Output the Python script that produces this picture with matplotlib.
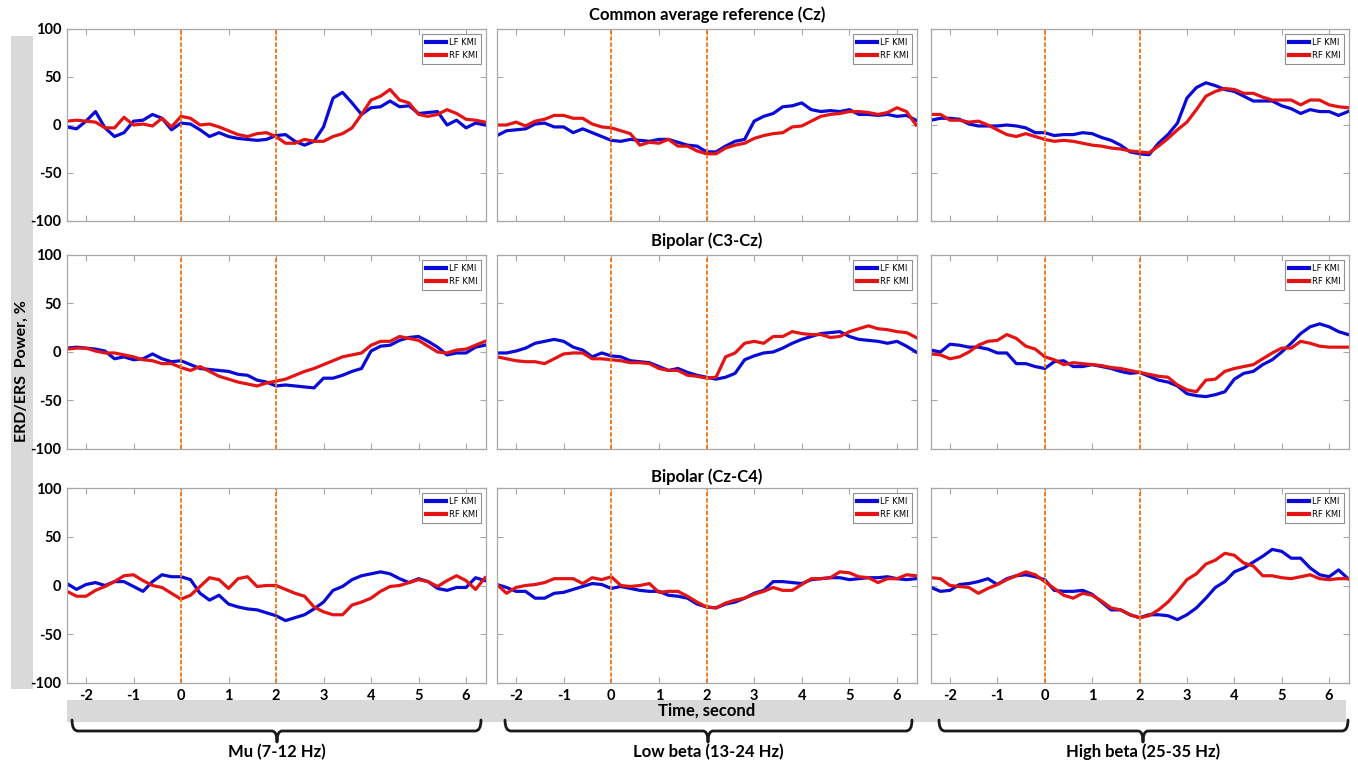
import numpy as np
import matplotlib
matplotlib.use("Agg")
import matplotlib.pyplot as plt
from matplotlib.path import Path
from matplotlib.patches import PathPatch, Rectangle

plt.rcParams['font.family'] = ['Lato', 'DejaVu Sans']

# time grid, second
t = np.linspace(-2.4, 6.4, 45)

# ERD/ERS power (%), row = reference, column = band
car_mu_lf = [-2, -4, 4, 14, -3, -12, -8, 4, 5, 11, 7, -5, 2, 1, -5, -12, -8, -12, -14, -15,
             -16, -15, -11, -10, -17, -21, -17, -2, 28, 34, 23, 11, 18, 19, 25, 19, 20, 12, 13, 14,
             0, 5, -3, 2, 0]
car_mu_rf = [4, 5, 4, 3, -3, -3, 8, 0, 1, -1, 7, -2, 9, 7, 0, 1, -2, -6, -10, -12,
             -9, -8, -12, -19, -19, -15, -17, -17, -12, -9, -3, 11, 26, 30, 37, 26, 23, 11, 9, 11,
             16, 12, 6, 5, 3]
car_lb_lf = [-11, -6, -5, -4, 1, 2, -2, -2, -8, -4, -8, -12, -16, -17, -15, -16, -17, -15, -15, -18,
             -21, -22, -28, -28, -22, -17, -15, 4, 9, 12, 19, 20, 23, 16, 14, 15, 14, 16, 11, 11,
             10, 11, 9, 10, 5]
car_lb_rf = [0, 0, 3, -1, 4, 6, 10, 10, 7, 7, 1, -2, -3, -6, -9, -21, -18, -19, -15, -22,
             -22, -27, -30, -30, -24, -21, -19, -14, -11, -9, -8, -2, -1, 4, 9, 11, 12, 14, 14, 13,
             11, 13, 18, 14, 0]
car_hb_lf = [5, 7, 7, 6, 1, -1, -1, -1, 0, -1, -3, -8, -8, -11, -10, -10, -8, -9, -13, -16,
             -21, -28, -30, -31, -19, -10, 2, 28, 39, 44, 41, 37, 35, 30, 25, 25, 25, 20, 17, 12,
             16, 14, 14, 10, 14]
car_hb_rf = [11, 11, 5, 5, 3, 4, 0, -5, -10, -12, -9, -12, -15, -17, -16, -17, -19, -21, -22, -24,
             -25, -27, -28, -29, -22, -14, -5, 3, 16, 30, 35, 38, 37, 33, 33, 29, 26, 26, 26, 21,
             26, 26, 21, 19, 18]

c3_mu_lf = [4, 5, 4, 3, 1, -7, -5, -8, -7, -2, -7, -10, -9, -13, -17, -18, -19, -20, -23, -24,
            -29, -31, -35, -34, -35, -36, -37, -27, -27, -24, -20, -17, 1, 6, 7, 12, 15, 16, 11, 5,
            -3, -1, -1, 5, 7]
c3_mu_rf = [3, 4, 4, 1, -1, -1, -3, -5, -8, -9, -12, -12, -16, -19, -15, -20, -25, -28, -31, -33,
            -35, -32, -30, -28, -24, -20, -17, -13, -9, -5, -3, -1, 7, 11, 11, 16, 14, 12, 6, 0,
            -1, 2, 3, 7, 11]
c3_lb_lf = [-1, -1, 1, 4, 9, 11, 13, 11, 5, 2, -5, -1, -4, -5, -9, -10, -11, -15, -19, -17,
            -21, -24, -26, -28, -26, -22, -8, -4, -1, 0, 4, 9, 13, 16, 19, 20, 21, 16, 13, 12,
            11, 9, 11, 6, 0]
c3_lb_rf = [-5, -7, -9, -10, -10, -12, -7, -2, -1, -1, -7, -7, -8, -9, -11, -11, -12, -17, -19, -19,
            -24, -25, -27, -26, -5, -1, 9, 11, 9, 16, 16, 21, 19, 18, 18, 15, 16, 21, 24, 27,
            24, 23, 21, 20, 15]
c3_hb_lf = [2, 0, 8, 7, 5, 5, 3, -1, -1, -12, -12, -15, -17, -10, -9, -15, -15, -13, -15, -17,
            -20, -22, -21, -25, -29, -31, -35, -43, -45, -46, -44, -41, -28, -22, -20, -13, -8, 0, 9, 19,
            26, 29, 26, 21, 18]
c3_hb_rf = [-2, -3, -7, -5, 0, 7, 11, 12, 18, 14, 6, 3, -5, -8, -13, -11, -12, -13, -14, -16,
            -17, -19, -21, -23, -25, -26, -34, -39, -41, -29, -28, -20, -17, -15, -13, -7, -1, 4, 4, 11,
            9, 6, 5, 5, 5]

c4_mu_lf = [2, -4, 1, 3, 0, 4, 4, -1, -6, 4, 11, 9, 9, 6, -8, -15, -10, -19, -22, -24,
            -25, -28, -31, -36, -33, -30, -24, -17, -5, -1, 6, 10, 12, 14, 12, 7, 3, 7, 4, -3,
            -5, -2, -2, 8, 5]
c4_mu_rf = [-6, -11, -11, -5, -1, 4, 10, 11, 5, 0, -2, -8, -14, -10, -1, 8, 6, -3, 7, 9,
            -1, 0, 0, -4, -8, -11, -22, -27, -30, -30, -20, -17, -13, -6, -1, 0, 3, 6, 4, -1,
            5, 10, 5, -4, 8]
c4_lb_lf = [1, -2, -6, -6, -13, -13, -8, -7, -4, -1, 2, 1, -3, -1, -3, -5, -6, -6, -10, -11,
            -13, -19, -22, -23, -19, -17, -13, -8, -5, 4, 4, 3, 2, 6, 7, 8, 8, 6, 7, 8,
            8, 9, 7, 6, 7]
c4_lb_rf = [1, -8, -2, 0, 1, 3, 7, 7, 7, 2, 8, 6, 9, 0, -1, 0, 2, -7, -6, -6,
            -11, -17, -22, -23, -18, -15, -13, -9, -6, -2, -5, -5, 1, 7, 7, 8, 14, 13, 9, 8,
            3, 7, 7, 11, 10]
c4_hb_lf = [-2, -6, -5, 1, 2, 4, 7, 1, 7, 10, 11, 9, 6, -5, -6, -6, -5, -9, -17, -25,
            -25, -30, -33, -30, -30, -31, -35, -30, -23, -13, -2, 4, 14, 18, 24, 30, 37, 35, 28, 28,
            18, 11, 9, 16, 7]
c4_hb_rf = [8, 7, 0, -1, -2, -8, -3, 1, 6, 10, 14, 11, 4, -3, -10, -13, -8, -10, -16, -23,
            -25, -30, -33, -31, -25, -17, -6, 6, 12, 22, 26, 33, 31, 23, 20, 10, 10, 8, 7, 9,
            11, 7, 6, 7, 7]

row_titles = ["Common average reference (Cz)", "Bipolar (C3-Cz)", "Bipolar (Cz-C4)"]
band_labels = ["Mu (7-12 Hz)", "Low beta (13-24 Hz)", "High beta (25-35 Hz)"]
series_names = ["LF KMI", "RF KMI"]
yticks = [-100, -50, 0, 50, 100]
xticks = [-2, -1, 0, 1, 2, 3, 4, 5, 6]
cue_times = [0, 2]

panels = [
    [(car_mu_lf, car_mu_rf), (car_lb_lf, car_lb_rf), (car_hb_lf, car_hb_rf)],
    [(c3_mu_lf, c3_mu_rf), (c3_lb_lf, c3_lb_rf), (c3_hb_lf, c3_hb_rf)],
    [(c4_mu_lf, c4_mu_rf), (c4_lb_lf, c4_lb_rf), (c4_hb_lf, c4_hb_rf)],
]

W, H = 1358, 763
fig = plt.figure(figsize=(W / 100, H / 100), dpi=100)

# pixel boxes of the panels (left, right) / (top, bottom)
col_px = [(67, 486), (497, 917), (931, 1349)]
row_px = [(29, 221), (255, 449), (488, 683)]

blue = '#0a0ad8'
red = '#e51414'
orange = '#f07c22'
spine = '#a8a8a8'

# overlay in pixel coordinates for the decorations
ov = fig.add_axes([0, 0, 1, 1], zorder=-1)
ov.set_xlim(0, W)
ov.set_ylim(H, 0)
ov.axis('off')

for r, (ytop, ybot) in enumerate(row_px):
    for c, (xl, xr) in enumerate(col_px):
        ax = fig.add_axes([xl / W, 1 - ybot / H, (xr - xl) / W, (ybot - ytop) / H])
        lf, rf = panels[r][c]
        ax.plot(t, lf, color=blue, lw=2.3, label=series_names[0])
        ax.plot(t, rf, color=red, lw=2.3, label=series_names[1])
        for ct in cue_times:
            ax.axvline(ct, color=orange, lw=1.4, ls=(0, (2.2, 1.0)))
        ax.set_xlim(-2.4, 6.42)
        ax.set_ylim(-100, 100)
        ax.set_xticks(xticks)
        ax.set_yticks(yticks)
        ax.tick_params(direction='in', length=4, width=0.8, color=spine,
                       top=True, right=True, labelsize=10.5, pad=4)
        for s in ax.spines.values():
            s.set_color(spine)
            s.set_linewidth(0.9)
        if c == 0:
            ax.set_yticklabels([str(v) for v in yticks], fontweight='bold')
        else:
            ax.set_yticklabels([])
        if r == 2:
            ax.set_xticklabels([str(v) for v in xticks], fontweight='bold')
        else:
            ax.set_xticklabels([])
        leg = ax.legend(loc='upper right', fontsize=6, handlelength=2.4,
                        handletextpad=0.3, borderpad=0.45, labelspacing=0.5,
                        fancybox=False, framealpha=1, borderaxespad=0.6,
                        prop={'family': ['Liberation Sans Narrow', 'DejaVu Sans'], 'size': 6})
        leg.get_frame().set_edgecolor('#909090')
        leg.get_frame().set_linewidth(0.8)
        for ln in leg.get_lines():
            ln.set_linewidth(3)

# row titles
title_y = [15, 241, 477]
for ty, txt in zip(title_y, row_titles):
    ov.text(707, ty, txt, ha='center', va='center', fontsize=12, fontweight='bold')

# left grey band with the y label
ov.add_patch(Rectangle((11, 36), 22, 653, color='#d9d9d9', lw=0))
ov.text(22, 371, "ERD/ERS  Power, %", rotation=90, ha='center', va='center',
        fontsize=11.5, fontweight='bold')

# bottom grey band with the x label
ov.add_patch(Rectangle((67, 700), 1279, 22, color='#d9d9d9', lw=0))
ov.text(707, 711, "Time, second", ha='center', va='center', fontsize=12, fontweight='bold')

# braces below each column
brace_px = [(72, 277, 481), (505, 708, 912), (939, 1143, 1348)]
for (x0, xc, x1), lab in zip(brace_px, band_labels):
    yl, yt, yp = 731, 720, 742
    verts = [(x0, yt), (x0, yl), (x0 + 6, yl),
             (xc - 5, yl),
             (xc, yl), (xc, yp),
             (xc, yl), (xc + 5, yl),
             (x1 - 6, yl),
             (x1, yl), (x1, yt)]
    codes = [Path.MOVETO, Path.CURVE3, Path.CURVE3,
             Path.LINETO,
             Path.CURVE3, Path.CURVE3,
             Path.CURVE3, Path.CURVE3,
             Path.LINETO,
             Path.CURVE3, Path.CURVE3]
    ov.add_patch(PathPatch(Path(verts, codes), fill=False, lw=2.0, color='#1a1a1a',
                           capstyle='round', joinstyle='round'))
    ov.text(xc, 752, lab, ha='center', va='center', fontsize=12, fontweight='bold')

fig.savefig('out.png', dpi=100)
